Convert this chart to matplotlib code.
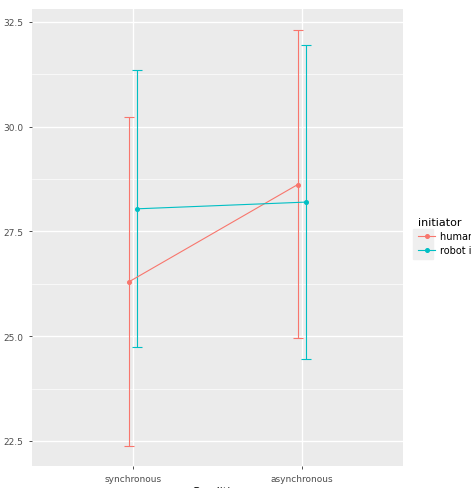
import matplotlib
matplotlib.use("Agg")
import matplotlib.pyplot as plt
from matplotlib.lines import Line2D
from matplotlib.patches import Rectangle
import numpy as np

# data
conditions = ["synchronous", "asynchronous"]
initiators = ["human initiator", "robot initiator"]
colors = ["#F8766D", "#00BFC4"]
means = {
    "human initiator": [26.30, 28.62],
    "robot initiator": [28.04, 28.20],
}
upper = {
    "human initiator": [30.23, 32.32],
    "robot initiator": [31.35, 31.95],
}
lower = {
    "human initiator": [22.37, 24.96],
    "robot initiator": [24.74, 24.45],
}

W, H = 471, 489
fig = plt.figure(figsize=(W / 100, H / 100), dpi=100)
ax = fig.add_axes([32 / W, 1 - 467 / H, (403 - 32) / W, (467 - 10) / H])
ax.set_facecolor("#EBEBEB")

x = np.arange(1, len(conditions) + 1)
dodge = [-0.024, 0.024]
for k, name in enumerate(initiators):
    xs = x + dodge[k]
    m = np.array(means[name])
    lo = m - np.array(lower[name])
    hi = np.array(upper[name]) - m
    ax.errorbar(xs, m, yerr=[lo, hi], color=colors[k], lw=0.8,
                capsize=3.5, capthick=0.8, marker="o", ms=2.6, zorder=3)

ax.set_xlim(0.4, 2.6)
ax.set_ylim(21.9, 32.81)
ax.set_xticks(x)
ax.set_xticklabels(conditions)
ax.set_yticks([22.5, 25.0, 27.5, 30.0, 32.5])
ax.set_yticks([23.75, 26.25, 28.75, 31.25], minor=True)
ax.grid(True, which="major", color="white", lw=1.0, zorder=0)
ax.grid(True, which="minor", axis="y", color="white", lw=0.5, zorder=0)
ax.set_axisbelow(True)
for s in ax.spines.values():
    s.set_visible(False)
ax.tick_params(which="major", colors="#4D4D4D", labelsize=6.5, length=2.5, width=0.7)
ax.tick_params(which="minor", length=0)
ax.set_xlabel("Condition", fontsize=8, labelpad=2)
ax.set_ylabel("Mind Attribution Scale score", fontsize=8, labelpad=3)

# legend key backgrounds like ggplot
for i in range(2):
    fig.patches.append(Rectangle((413 / W, 1 - (245 + 15 * i) / H), 20 / W, 15 / H,
                                 transform=fig.transFigure, color="#EFEFEF", zorder=0))

handles = [Line2D([], [], color=c, lw=0.8, marker="o", ms=2.6) for c in colors]
leg = fig.legend(handles, initiators, loc="upper left",
                 bbox_to_anchor=(409 / W, 1 - 209 / H),
                 title="initiator", frameon=False, fontsize=7,
                 title_fontsize=8, handlelength=1.8, handletextpad=0.5,
                 labelspacing=0.45)
leg._legend_box.align = "left"

fig.savefig("out.png", dpi=100)
